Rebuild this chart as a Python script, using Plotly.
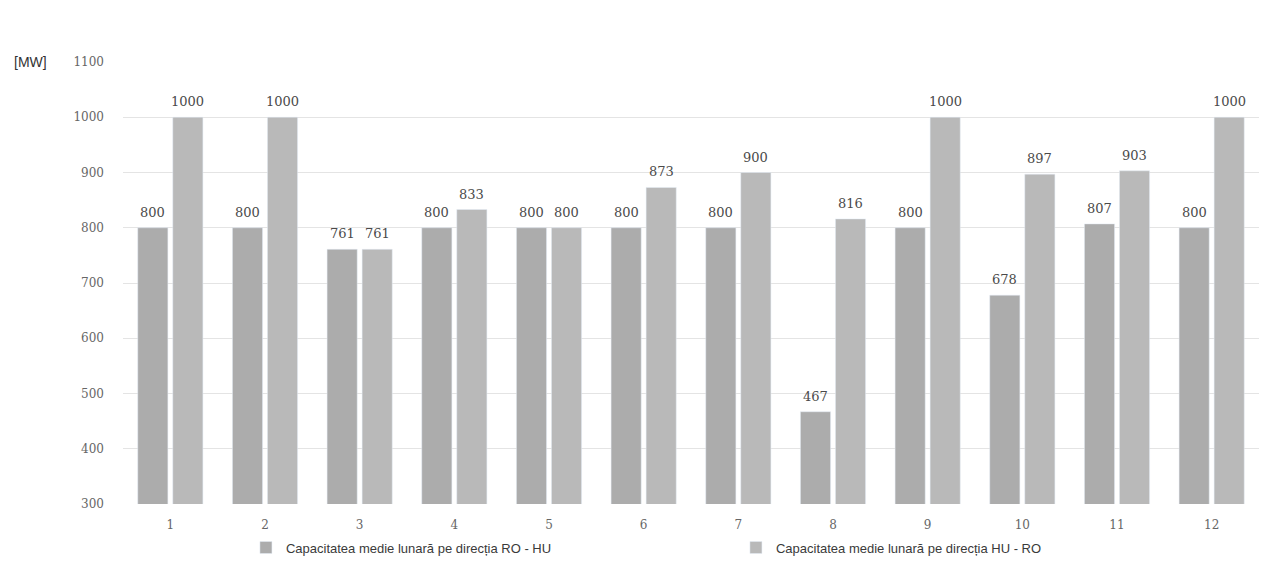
import plotly.graph_objects as go

months = ["1", "2", "3", "4", "5", "6", "7", "8", "9", "10", "11", "12"]
ro_hu = [800, 800, 761, 800, 800, 800, 800, 467, 800, 678, 807, 800]
hu_ro = [1000, 1000, 761, 833, 800, 873, 900, 816, 1000, 897, 903, 1000]
y_ticks = [300, 400, 500, 600, 700, 800, 900, 1000, 1100]

BARGAP = 0.26
label_font = dict(family="DejaVu Serif, serif", size=13, color="#4a4a4a")

fig = go.Figure()
fig.add_trace(go.Bar(
    x=months, y=ro_hu, name="Capacitatea medie lunară pe direcția RO - HU",
    marker=dict(color="#acacac"),
))
fig.add_trace(go.Bar(
    x=months, y=hu_ro, name="Capacitatea medie lunară pe direcția HU - RO",
    marker=dict(color="#b9b9b9"),
))

# value labels centred over each bar of the pair
half_slot = (1 - BARGAP) / 4
annotations = []
for series, shift in ((ro_hu, -half_slot), (hu_ro, half_slot)):
    for i, v in enumerate(series):
        annotations.append(dict(
            x=i + shift, y=v, xref="x", yref="y", text=str(v),
            showarrow=False, xanchor="center", yanchor="bottom", yshift=6,
            font=label_font,
        ))
annotations.append(dict(
    text="[MW]", xref="paper", yref="paper", x=-0.098, y=1.0,
    xanchor="left", yanchor="middle", showarrow=False,
    font=dict(family="Liberation Sans, Arial, sans-serif", size=14, color="#333333"),
))

fig.update_layout(
    width=1271, height=568,
    margin=dict(l=123, r=12, t=62, b=64, autoexpand=False),
    paper_bgcolor="white", plot_bgcolor="white",
    barmode="group", bargap=BARGAP, bargroupgap=0.14,
    font=dict(family="Liberation Sans, Arial, sans-serif", color="#555555"),
    showlegend=True,
    legend=dict(
        orientation="h", xref="container", yref="container",
        x=0.1935, y=0.036, xanchor="left", yanchor="middle",
        bgcolor="rgba(0,0,0,0)",
        font=dict(family="Liberation Sans, Arial, sans-serif", size=13, color="#3a3a3a"),
        itemwidth=30, entrywidth=445, entrywidthmode="pixels",
    ),
    xaxis=dict(
        showgrid=False, showline=False, ticks="", ticklabelstandoff=12,
        tickfont=dict(family="DejaVu Serif, serif", size=12, color="#666666"),
    ),
    yaxis=dict(
        range=[300, 1100], tickvals=y_ticks, showline=False, zeroline=False,
        gridcolor="#e4e4e4", gridwidth=1, ticks="", ticklabelstandoff=18,
        tickfont=dict(family="DejaVu Serif, serif", size=12, color="#666666"),
    ),
    annotations=annotations,
)

fig.write_html("out.html")
